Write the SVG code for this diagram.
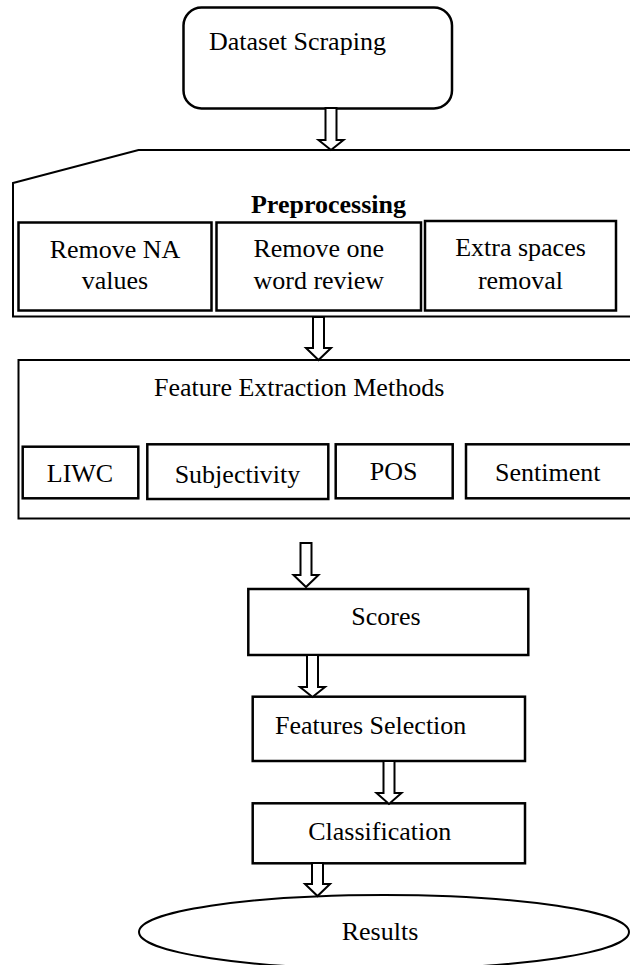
<svg xmlns="http://www.w3.org/2000/svg" width="630" height="965" viewBox="0 0 630 965">
<style>
.box{fill:#fff;stroke:#000;stroke-width:2.5}
.outer{fill:#fff;stroke:#000;stroke-width:2}
.arr{fill:#fff;stroke:#000;stroke-width:2;stroke-linejoin:miter}
text{font-family:"Liberation Serif","Times New Roman",serif;font-size:26px;fill:#000}
.c{text-anchor:middle}
.b{font-weight:bold}
</style>
<rect width="630" height="965" fill="#fff"/>
<g id="dataset">
<rect class="box" x="183.5" y="7.5" width="268.5" height="101" rx="18" ry="18"/>
<text x="209" y="50">Dataset Scraping</text>
</g>
<g id="preprocessing">
<polygon class="outer" points="13,183 138.5,150 645,150 645,316.5 13,316.5"/>
<text class="c b" x="328.5" y="212.5">Preprocessing</text>
</g>
<g id="remove-na">
<rect class="box" x="18.5" y="222.5" width="193" height="88"/>
<text class="c" x="115" y="257.5">Remove NA</text>
<text class="c" x="115" y="289">values</text>
</g>
<g id="remove-one-word">
<rect class="box" x="216.5" y="222.5" width="204.5" height="88"/>
<text class="c" x="318.8" y="257">Remove one</text>
<text class="c" x="318.8" y="289">word review</text>
</g>
<g id="extra-spaces">
<rect class="box" x="425" y="221" width="191" height="89.5"/>
<text class="c" x="520.5" y="255.5">Extra spaces</text>
<text class="c" x="520.5" y="288.5">removal</text>
</g>
<g id="feature-extraction">
<rect class="outer" x="18.5" y="360" width="630" height="158.5"/>
<text x="154" y="395.7">Feature Extraction Methods</text>
</g>
<g id="liwc">
<rect class="box" x="22.7" y="446.7" width="115.6" height="51.6"/>
<text class="c" x="80" y="481.7">LIWC</text>
</g>
<g id="subjectivity">
<rect class="box" x="147.3" y="444.3" width="181" height="54.7"/>
<text class="c" x="237.5" y="482.7">Subjectivity</text>
</g>
<g id="pos">
<rect class="box" x="335.7" y="444.3" width="117" height="54"/>
<text class="c" x="393.7" y="480">POS</text>
</g>
<g id="sentiment">
<rect class="box" x="466" y="444.3" width="180" height="54"/>
<text x="495" y="481">Sentiment</text>
</g>
<g id="scores">
<rect class="box" x="248.3" y="589" width="280" height="66"/>
<text class="c" x="386" y="625">Scores</text>
</g>
<g id="features-selection">
<rect class="box" x="252.7" y="696.7" width="272.3" height="64.3"/>
<text x="275" y="734">Features Selection</text>
</g>
<g id="classification">
<rect class="box" x="252.7" y="803.3" width="272.3" height="60"/>
<text class="c" x="379.7" y="840">Classification</text>
</g>
<g id="results">
<ellipse class="outer" cx="384" cy="932" rx="245" ry="37"/>
<text class="c" x="380" y="940">Results</text>
</g>
<g id="connectors">
<polygon class="arr" points="325.5,108 336.5,108 336.5,140 343.5,140 331,150 318.5,140 325.5,140"/>
<polygon class="arr" points="313,317 324,317 324,348 331,348 318.5,360 306,348 313,348"/>
<polygon class="arr" points="300.5,543 311.5,543 311.5,575 318.5,575 306,587 293.5,575 300.5,575"/>
<polygon class="arr" points="307,655 318,655 318,687 325,687 312.5,697 300,687 307,687"/>
<polygon class="arr" points="383.5,761 394.5,761 394.5,793 401.5,793 389,804 376.5,793 383.5,793"/>
<polygon class="arr" points="312,863 323,863 323,884 330,884 317.5,896 305,884 312,884"/>
</g>
</svg>
